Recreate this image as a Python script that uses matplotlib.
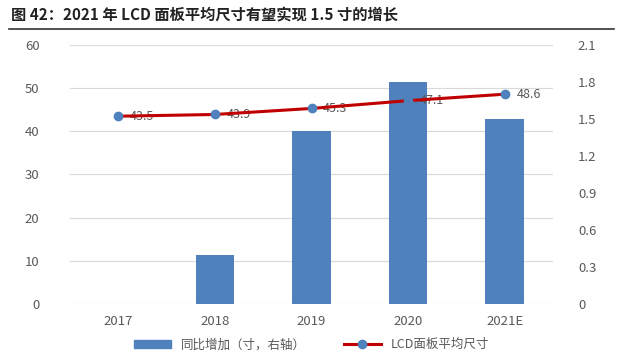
import matplotlib.pyplot as plt
from matplotlib.lines import Line2D
from matplotlib.patches import Patch

plt.rcParams['font.family'] = ['Noto Sans CJK SC', 'DejaVu Sans']

years = ["2017", "2018", "2019", "2020", "2021E"]
avg_size = [43.5, 43.9, 45.3, 47.1, 48.6]      # left axis, inches
yoy_inc = [0.0, 0.4, 1.4, 1.8, 1.5]            # right axis, inches
left_ticks = [0, 10, 20, 30, 40, 50, 60]
right_ticks = [0, 0.3, 0.6, 0.9, 1.2, 1.5, 1.8, 2.1]

bar_color = "#4F81BD"
line_color = "#C00000"
text_gray = "#595959"

fig = plt.figure(figsize=(6.23, 3.59), dpi=100)
ax = fig.add_axes([0.1124, 0.1532, 0.7752, 0.7215])
ax2 = ax.twinx()

x = list(range(len(years)))

# right axis: bars, with gridlines (at left-axis ticks) behind them
ax2.set_ylim(0, 2.1)
for t in left_ticks:
    ax2.axhline(t * 2.1 / 60, color="#D9D9D9", lw=0.8, zorder=1)
ax2.bar(x, yoy_inc, 0.4, color=bar_color, zorder=2)
ax2.set_yticks(right_ticks)
ax2.set_yticklabels([f"{t:g}" for t in right_ticks])

# left axis: line on top
ax.set_zorder(ax2.get_zorder() + 1)
ax.patch.set_visible(False)
ax.plot(x, avg_size, color=line_color, lw=2.2, marker="o", ms=6,
        markerfacecolor=bar_color, markeredgecolor=bar_color, zorder=3)
for i, v in enumerate(avg_size):
    ax.text(i + 0.12, v, str(v), ha="left", va="center", fontsize=9,
            color=text_gray, zorder=2)

ax.set_ylim(0, 60)
ax.set_yticks(left_ticks)
ax.set_xlim(-0.5, len(years) - 0.5)
ax.set_xticks(x)
ax.set_xticklabels(years)
for a in (ax, ax2):
    for s in a.spines.values():
        s.set_visible(False)
    a.tick_params(length=0, colors=text_gray, labelsize=9.5)
ax.tick_params(axis="y", pad=22)
ax2.tick_params(axis="y", pad=18)
ax.tick_params(axis="x", pad=8)

handles = [Patch(color=bar_color),
           Line2D([0], [0], color=line_color, lw=2.2, marker="o", ms=6,
                  markerfacecolor=bar_color, markeredgecolor=bar_color)]
fig.legend(handles, ["同比增加（寸，右轴）", "LCD面板平均尺寸"], loc="lower center",
           bbox_to_anchor=(0.5, -0.01), ncol=2, frameon=False, fontsize=9,
           handlelength=3, columnspacing=3, labelcolor=text_gray)

fig.text(0.018, 0.958, "图 42：2021 年 LCD 面板平均尺寸有望实现 1.5 寸的增长",
         fontsize=11, fontweight="bold", ha="left", va="center", color="#222222")
fig.add_artist(Line2D([0.015, 0.985], [0.92, 0.92], color="#333333", lw=1.2))

fig.savefig("out.png", dpi=100)
